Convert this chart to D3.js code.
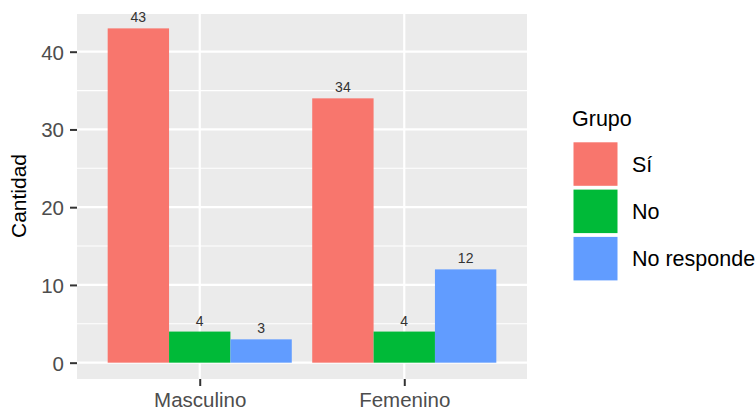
<!DOCTYPE html>
<html><head><meta charset="utf-8">
<script src="https://cdn.jsdelivr.net/npm/d3@7"></script>
<style>body{margin:0;background:#fff}svg{display:block;font-family:"Liberation Sans",Arial,sans-serif}</style>
</head><body><svg id="c" width="755" height="411"></svg>
<script>
const categories = ["Masculino", "Femenino"];
const groups = ["Sí", "No", "No responde"];
const valuesSi = [43, 34];
const valuesNo = [4, 4];
const valuesNR = [3, 12];
const colors = ["#F8766D", "#00BA38", "#619CFF"];
const yTicks = [0, 10, 20, 30, 40];
const yMinor = [5, 15, 25, 35];

const series = [valuesSi, valuesNo, valuesNR];
const data = [];
categories.forEach((c, i) => groups.forEach((g, j) => data.push({cat: c, grp: g, val: series[j][i]})));

const svg = d3.select("#c");
const P = {l: 77, r: 527, t: 14, b: 379};
const y = d3.scaleLinear().domain([-2.1, 44.85]).range([P.b, P.t]);
// ggplot style: discrete positions with 0.6 expansion
const xc = d3.scalePoint().domain(categories).range([P.l + (P.r-P.l)*0.6/2.2, P.r - (P.r-P.l)*0.6/2.2]);
const unit = (P.r - P.l) / 2.2;
const xg = d3.scaleBand().domain(groups).range([-0.45*unit, 0.45*unit]);

svg.append("rect").attr("x", P.l).attr("y", P.t).attr("width", P.r-P.l).attr("height", P.b-P.t).attr("fill", "#EBEBEB");
svg.append("g").selectAll("line").data(yMinor).join("line")
  .attr("x1", P.l).attr("x2", P.r).attr("y1", d=>y(d)).attr("y2", d=>y(d))
  .attr("stroke", "#fff").attr("stroke-width", 1.1);
svg.append("g").selectAll("line").data(yTicks).join("line")
  .attr("x1", P.l).attr("x2", P.r).attr("y1", d=>y(d)).attr("y2", d=>y(d))
  .attr("stroke", "#fff").attr("stroke-width", 2.2);
svg.append("g").selectAll("line").data(categories).join("line")
  .attr("x1", d=>xc(d)).attr("x2", d=>xc(d)).attr("y1", P.t).attr("y2", P.b)
  .attr("stroke", "#fff").attr("stroke-width", 2.2);

svg.append("g").selectAll("rect").data(data).join("rect")
  .attr("x", d=>xc(d.cat)+xg(d.grp)).attr("width", xg.bandwidth())
  .attr("y", d=>y(d.val)).attr("height", d=>y(0)-y(d.val))
  .attr("fill", d=>colors[groups.indexOf(d.grp)]);

svg.append("g").selectAll("text").data(data).join("text")
  .attr("x", d=>xc(d.cat)+xg(d.grp)+xg.bandwidth()/2).attr("y", d=>y(d.val)-6)
  .attr("text-anchor", "middle").attr("font-size", 14).attr("fill", "#333")
  .text(d=>d.val);

// y axis
const ya = svg.append("g").attr("transform", `translate(${P.l},0)`)
  .call(d3.axisLeft(y).tickValues(yTicks).tickSize(7).tickPadding(6));
ya.select(".domain").remove();
ya.selectAll(".tick line").attr("stroke", "#333").attr("stroke-width", 2);
ya.selectAll(".tick text").attr("font-size", 20.5).attr("fill", "#4D4D4D").attr("font-family", "Liberation Sans, Arial, sans-serif").attr("dy", "0.36em");

// x axis
const xa = svg.append("g").attr("transform", `translate(0,${P.b})`)
  .call(d3.axisBottom(xc).tickSize(7).tickPadding(4));
xa.select(".domain").remove();
xa.selectAll(".tick line").attr("stroke", "#333").attr("stroke-width", 2);
xa.selectAll(".tick text").attr("font-size", 20.5).attr("fill", "#4D4D4D").attr("font-family", "Liberation Sans, Arial, sans-serif").attr("dy", "0.85em");

svg.append("text").attr("transform", "translate(26,196) rotate(-90)")
  .attr("text-anchor", "middle").attr("font-size", 21).attr("fill", "#000").text("Cantidad");

// legend
const lg = svg.append("g");
lg.append("text").attr("x", 572).attr("y", 126).attr("font-size", 21.5).attr("fill", "#000").text("Grupo");
const step = 47.3;
groups.forEach((g, j) => {
  lg.append("rect").attr("x", 573.5).attr("y", 142.3 + j*step).attr("width", 44).attr("height", 43.5)
    .attr("fill", colors[j]);
  lg.append("text").attr("x", 632).attr("y", 142.3 + j*step + 21.75).attr("dy", "0.36em")
    .attr("font-size", 21.5).attr("fill", "#000").text(g);
});
</script></body></html>
